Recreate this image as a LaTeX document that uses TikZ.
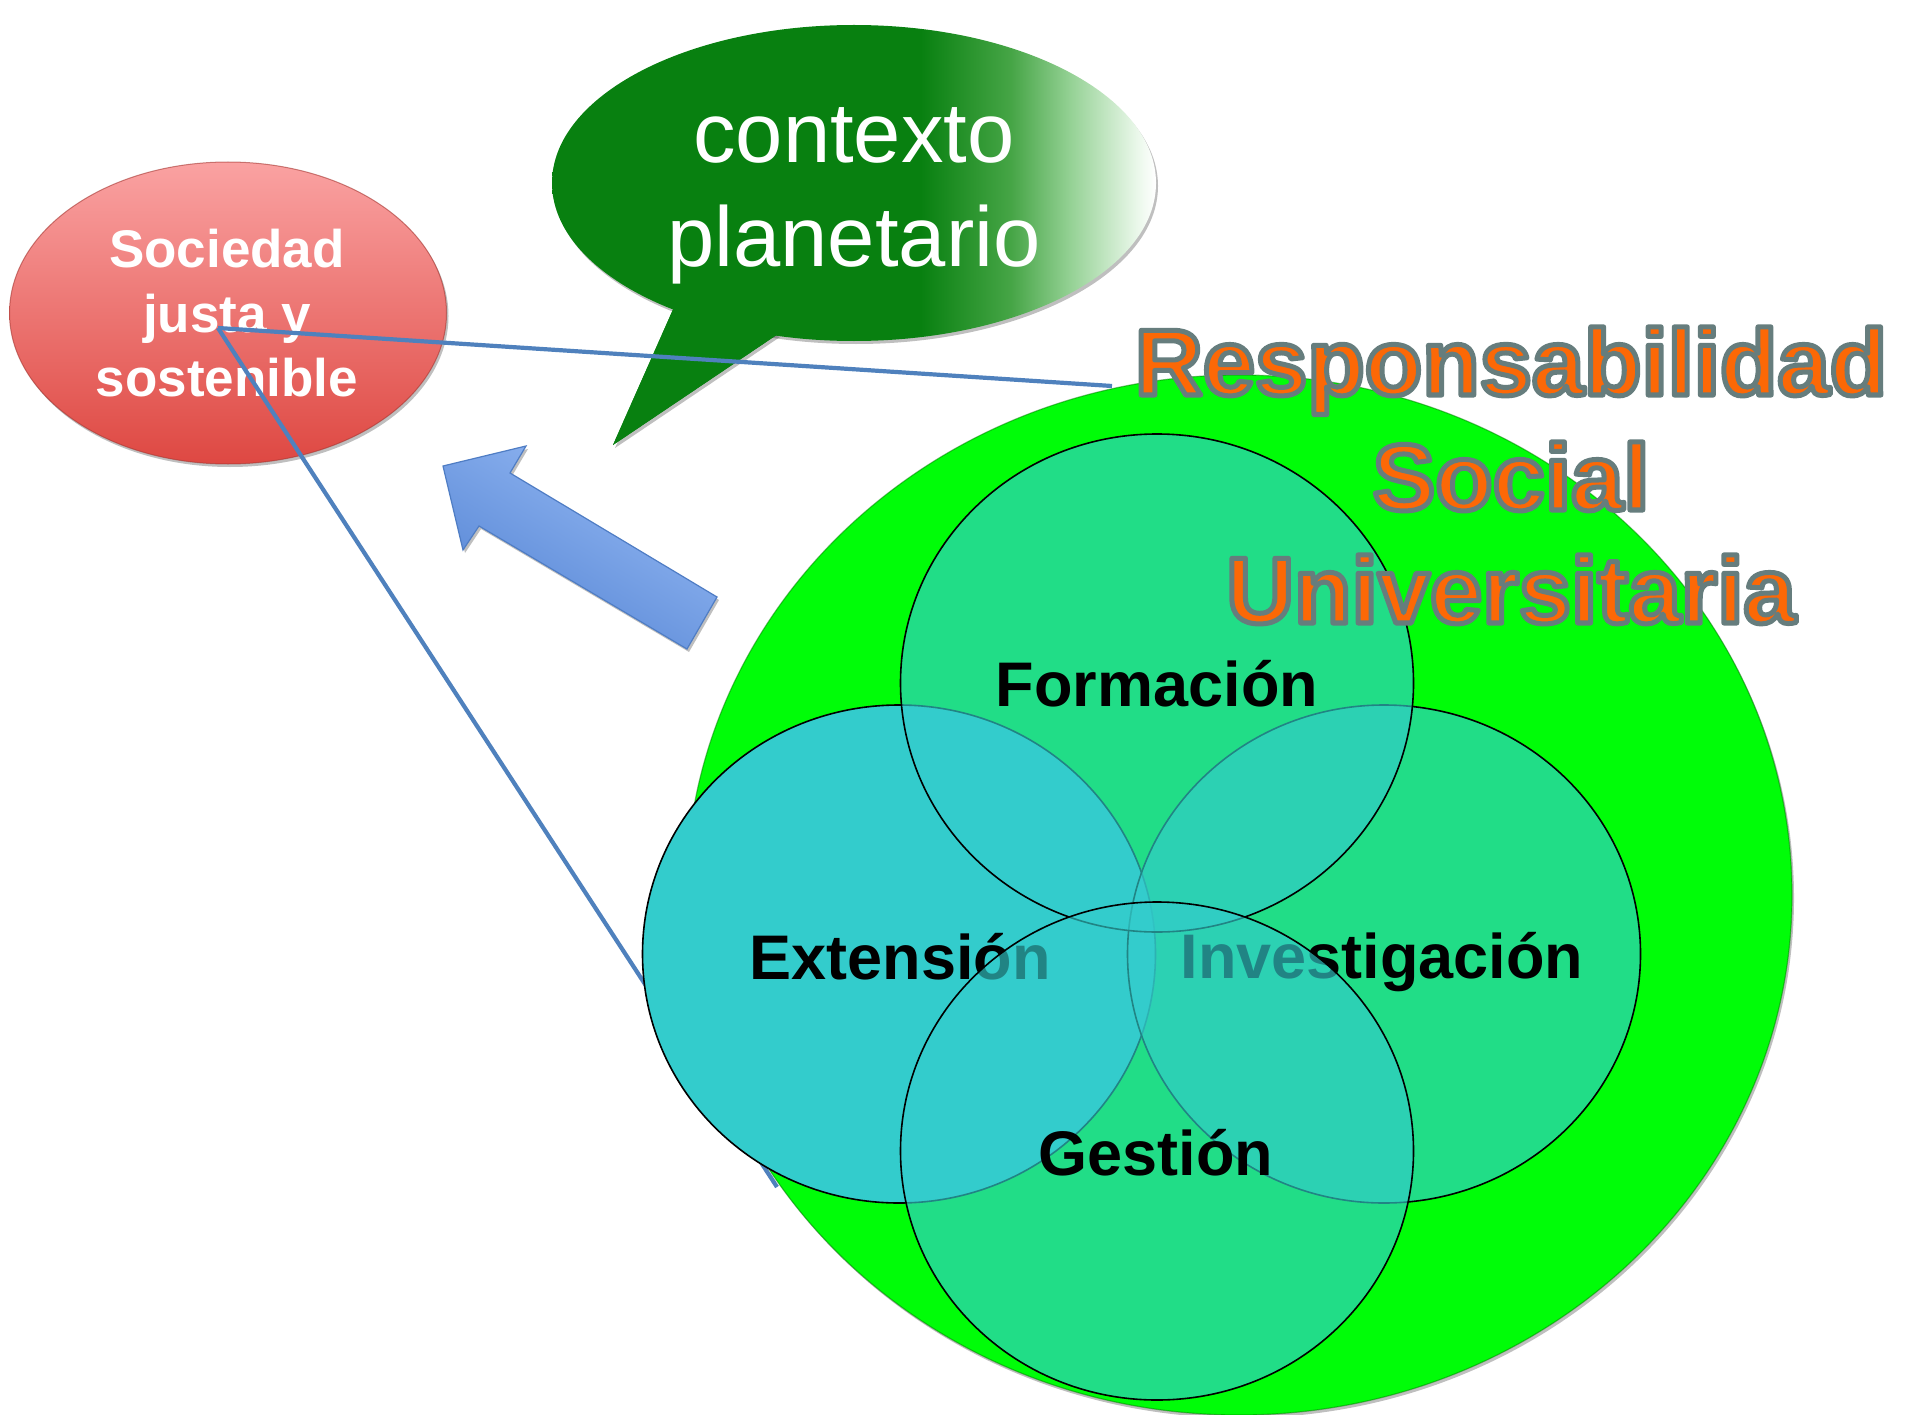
\documentclass[tikz,border=0pt]{standalone}
\usepackage{fontspec}
\setmainfont{Liberation Sans}
\usetikzlibrary{shapes.geometric,shadows,calc}
\definecolor{bg}{RGB}{8,128,16}
\definecolor{bgb}{RGB}{70,165,70}
\definecolor{bgc}{RGB}{150,210,150}
\definecolor{bgd}{RGB}{235,248,235}
\pgfdeclarehorizontalshading{bubbleshade}{100bp}{color(0bp)=(bg); color(25bp)=(bg); color(55.5bp)=(bg); color(63bp)=(bgb); color(68bp)=(bgc); color(73.5bp)=(bgd); color(75bp)=(white); color(100bp)=(white)}
\definecolor{socTop}{RGB}{250,162,162}
\definecolor{socBot}{RGB}{222,72,66}
\definecolor{linkblue}{RGB}{79,129,189}
\definecolor{arrowLight}{RGB}{150,186,244}
\definecolor{arrowDark}{RGB}{84,132,212}
\definecolor{arrowEdge}{RGB}{79,125,196}
\definecolor{bigGreen}{RGB}{0,253,8}
\definecolor{vennc}{RGB}{51,204,204}
\definecolor{rsuOrange}{RGB}{252,104,6}
\newcommand\rsuline[3]{%
  \node[rsutext] (#1) at (1511,#2) {\special{pdf:literal direct 2 Tr 5 w 1 j 0.40 0.49 0.49 RG}#3\special{pdf:literal direct 0 Tr}};%
}
\begin{document}
\begin{tikzpicture}[x=1pt,y=-1pt,
  softshadow/.style={drop shadow={shadow xshift=2pt,shadow yshift=-3pt,opacity=0.25,fill=black}},
  venncirc/.style={ellipse,draw=black,line width=1.6pt,fill=vennc,minimum width=513pt,minimum height=498pt,inner sep=0pt},
  vennlabel/.style={font=\fontsize{63}{63}\selectfont\bfseries,text=black,anchor=base,inner sep=0pt},
  soctext/.style={font=\fontsize{53}{53}\selectfont\bfseries,text=white,anchor=base,inner sep=0pt},
  bubtext/.style={font=\fontsize{85}{85}\selectfont,text=white,anchor=base,inner sep=0pt},
  rsutext/.style={font=\fontsize{94}{94}\selectfont\bfseries,text=rsuOrange,anchor=base,inner sep=0pt},
  link/.style={draw=linkblue,line width=4.2pt}]

\useasboundingbox (0,0) rectangle (1905,1415);
\fill[white] (0,0) rectangle (1905,1415);

% Sociedad justa y sostenible
\node[ellipse,minimum width=437pt,minimum height=302pt,inner sep=0pt,
      top color=socTop,bottom color=socBot,draw=socBot!75!black,draw opacity=0.6,line width=1pt,softshadow] (soc) at (228,313) {};
\node[soctext] (soc1) at (227,268) {Sociedad};
\node[soctext] (soc2) at (227,332) {justa y};
\node[soctext] (soc3) at (227,396) {sostenible};

% speech bubble
\fill[bg,softshadow] (778,334) -- (613,445) -- (675,305) -- cycle;
\node[ellipse,minimum width=604pt,minimum height=316pt,inner sep=0pt,shading=bubbleshade,softshadow] (bub) at (854,183) {};
\fill[bg] (700,300) -- (675,305) -- (613,445) -- (778,334) -- (760,320) -- cycle;
\node[bubtext] (bub1) at (854,163) {contexto};
\node[bubtext] (bub2) at (854,267) {planetario};

% big blue arrow
\shade[top color=arrowLight,bottom color=arrowDark,shading angle=-31,draw=arrowEdge,line width=1.2pt,softshadow]
  (443,466) -- (526,446) -- (510,473) -- (717,597) -- (687,649) -- (479,526) -- (463,550) -- cycle;

% connectors
\coordinate (hub) at (218,328);
\coordinate (e1) at (1112,386);
\coordinate (e2) at (777,1187);
\draw[link] (hub) -- (e1);
\draw[link] (hub) -- (e2);

% big green circle
\node[ellipse,fill=bigGreen,draw=green!50!black,draw opacity=0.5,line width=1.2pt,minimum width=1106pt,minimum height=1040pt,inner sep=0pt,softshadow] (rsuc) at (1239,895) {};

% Venn circles
\node[venncirc] (ext) at (899,954) {};
\node[vennlabel] (extl) at (900,979) {Extensión};
\node[venncirc,fill opacity=0.65] (inv) at (1384,954) {};
\node[vennlabel] (invl) at (1382,978) {Investigación};
\node[venncirc,fill opacity=0.65] (form) at (1157,683) {};
\node[vennlabel] (forml) at (1157,706) {Formación};
\node[venncirc,fill opacity=0.65] (ges) at (1157,1151) {};
\node[vennlabel] (gesl) at (1156,1175) {Gestión};

% title
\rsuline{rsua}{395}{Responsabilidad}
\rsuline{rsub}{510}{Social}
\rsuline{rsuu}{623}{Universitaria}
\end{tikzpicture}
\end{document}
